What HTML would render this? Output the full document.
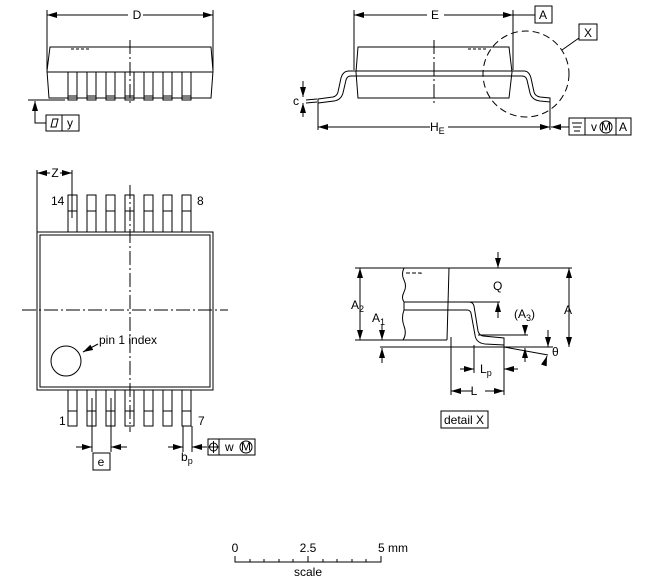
<!DOCTYPE html>
<html><head><meta charset="utf-8"><style>body{margin:0;background:#fff}svg{display:block}text{font-family:"Liberation Sans",sans-serif;font-size:12px;fill:#000}</style></head><body>
<svg width="663" height="581" viewBox="0 0 663 581" xmlns="http://www.w3.org/2000/svg">
<defs>
<marker id="a" viewBox="0 0 10 6" refX="10" refY="3" markerWidth="10" markerHeight="6" orient="auto-start-reverse" markerUnits="userSpaceOnUse"><path d="M0,0L10,3L0,6z" fill="#000"/></marker>
</defs>
<g fill="none" stroke="#000" stroke-width="1">
<line x1="47" y1="10" x2="47" y2="70"/><line x1="213" y1="10" x2="213" y2="70"/>
<line x1="47" y1="15" x2="128" y2="15" marker-start="url(#a)"/><line x1="143" y1="15" x2="213" y2="15" marker-end="url(#a)"/>
<path d="M50,47H211L213,71L211,98H49L47,71Z"/>
<line x1="47" y1="72" x2="213" y2="72"/>
<path d="M71,49h20" stroke-dasharray="3,2"/>
<g id="sp">
<rect x="68" y="72" width="9" height="28"/><line x1="68" y1="96" x2="77" y2="96"/>
</g>
<use href="#sp" x="19"/><use href="#sp" x="38"/><use href="#sp" x="57"/><use href="#sp" x="76"/><use href="#sp" x="95"/><use href="#sp" x="114"/>
<line x1="130" y1="40" x2="130" y2="106" stroke-dasharray="14,3,2,3"/>
<line x1="28" y1="100" x2="65" y2="100"/>
<polyline points="46,123 35,123 35,101" marker-end="url(#a)"/>
<rect x="46" y="115" width="33" height="16"/><line x1="62" y1="115" x2="62" y2="131"/>
<path d="M51,127L53,119H58L56,127Z"/>
<line x1="354" y1="10" x2="354" y2="70"/><line x1="513" y1="10" x2="513" y2="70"/>
<line x1="354" y1="15" x2="427" y2="15" marker-start="url(#a)"/><line x1="444" y1="15" x2="513" y2="15" marker-end="url(#a)"/>
<line x1="513" y1="15" x2="535" y2="15"/>
<rect x="535" y="6" width="17" height="17"/>
<path d="M358,47H509L512,72L509,98H358L356,72Z"/>
<path d="M468,49h20" stroke-dasharray="3,2"/>
<path d="M318,99L333,97Q337,96 338,92L341,78Q343,71 349,71H524Q529,71 531,78L534,92Q535,96 540,97L550,98V102L540,101Q532,100 530,93L527,80Q526,76 522,76H351Q347,76 346,80L343,93Q341,100 334,101L318,103Z"/>
<line x1="434" y1="40" x2="434" y2="106" stroke-dasharray="14,3,2,3"/>
<circle cx="526" cy="74" r="43" stroke-dasharray="7,4"/>
<line x1="562" y1="50" x2="579" y2="38"/>
<rect x="579" y="24" width="18" height="16"/>
<line x1="318" y1="100" x2="318" y2="130"/><line x1="550" y1="100" x2="550" y2="130"/>
<line x1="318" y1="127" x2="430" y2="127" marker-start="url(#a)"/><line x1="448" y1="127" x2="550" y2="127" marker-end="url(#a)"/>
<line x1="569" y1="127" x2="551" y2="127" marker-end="url(#a)"/>
<rect x="569" y="118" width="62" height="17"/><line x1="585" y1="118" x2="585" y2="135"/><line x1="616" y1="118" x2="616" y2="135"/>
<path d="M572,123h10M573,127h8M574,131h6"/>
<circle cx="606" cy="127" r="6"/>
<line x1="303" y1="81" x2="303" y2="97" marker-end="url(#a)"/><line x1="303" y1="117" x2="303" y2="103" marker-end="url(#a)"/>
<line x1="306" y1="100" x2="317" y2="99"/><line x1="306" y1="103" x2="317" y2="102"/>
<rect x="37" y="232" width="176" height="158"/><rect x="40" y="235" width="170" height="152"/>
<g id="tp"><rect x="68" y="195" width="9" height="37"/><line x1="68" y1="211" x2="77" y2="211"/>
<rect x="68" y="390" width="9" height="36"/><line x1="68" y1="411" x2="77" y2="411"/></g>
<use href="#tp" x="19"/><use href="#tp" x="38"/><use href="#tp" x="57"/><use href="#tp" x="76"/><use href="#tp" x="95"/><use href="#tp" x="114"/>
<line x1="22" y1="310" x2="228" y2="310" stroke-dasharray="14,3,2,3"/>
<line x1="130" y1="185" x2="130" y2="432" stroke-dasharray="14,3,2,3"/>
<line x1="37" y1="170" x2="37" y2="232"/><line x1="72" y1="170" x2="72" y2="218"/>
<line x1="37" y1="173" x2="50" y2="173" marker-start="url(#a)"/><line x1="60" y1="173" x2="72" y2="173" marker-end="url(#a)"/>
<circle cx="66" cy="361" r="15"/>
<line x1="98" y1="344" x2="83" y2="352" marker-end="url(#a)"/>
<line x1="92" y1="398" x2="92" y2="452"/><line x1="111" y1="398" x2="111" y2="452"/>
<line x1="76" y1="447" x2="92" y2="447" marker-end="url(#a)"/><line x1="127" y1="447" x2="111" y2="447" marker-end="url(#a)"/>
<rect x="93" y="453" width="17" height="17"/>
<line x1="183" y1="426" x2="183" y2="452"/><line x1="192" y1="426" x2="192" y2="452"/>
<line x1="168" y1="447" x2="183" y2="447" marker-end="url(#a)"/><line x1="207" y1="447" x2="192" y2="447" marker-end="url(#a)"/>
<rect x="208" y="439" width="47" height="16"/><line x1="219" y1="439" x2="219" y2="455"/>
<circle cx="213.5" cy="447" r="4"/><path d="M208,447h11M213.5,441v12"/>
<circle cx="246" cy="447" r="6"/>
<line x1="355" y1="268" x2="572" y2="268"/>
<line x1="355" y1="340" x2="405" y2="340"/>
<line x1="380" y1="347" x2="553" y2="347"/>
<line x1="360" y1="268" x2="360" y2="340" marker-start="url(#a)" marker-end="url(#a)"/>
<line x1="382" y1="325" x2="382" y2="340" marker-end="url(#a)"/><line x1="382" y1="363" x2="382" y2="348" marker-end="url(#a)"/>
<path d="M404,268q-3,6 0,12q3,6 0,12q-3,6 0,10v8q-3,8 0,16q3,8 -1,14"/>
<line x1="405" y1="340" x2="447" y2="340"/>
<path d="M449,268L447,340"/>
<path d="M406,273h15v2" stroke-dasharray="4,2"/>
<path d="M404,302H469Q473,302 474,306L478,331Q479,335 483,336L504,338V345L485,344Q476,343 475,335L471,313Q470,310 467,310H404Z"/>
<line x1="498" y1="252" x2="498" y2="268" marker-end="url(#a)"/>
<line x1="470" y1="302" x2="500" y2="302"/>
<line x1="498" y1="318" x2="498" y2="302" marker-end="url(#a)"/>
<line x1="478" y1="335" x2="528" y2="335"/>
<line x1="525" y1="325" x2="525" y2="335" marker-end="url(#a)"/>
<line x1="569" y1="268" x2="569" y2="347" marker-start="url(#a)" marker-end="url(#a)"/>
<line x1="548" y1="330" x2="548" y2="347" marker-end="url(#a)"/>
<line x1="504" y1="347" x2="548" y2="355"/>
<line x1="525" y1="362" x2="525" y2="348" marker-end="url(#a)"/>
<line x1="544" y1="365" x2="547" y2="356" marker-end="url(#a)"/>
<line x1="451" y1="337" x2="451" y2="395"/><line x1="474" y1="345" x2="474" y2="373"/><line x1="504" y1="345" x2="504" y2="395"/>
<line x1="460" y1="369" x2="474" y2="369" marker-end="url(#a)"/><line x1="518" y1="369" x2="504" y2="369" marker-end="url(#a)"/>
<line x1="451" y1="391" x2="472" y2="391" marker-start="url(#a)"/><line x1="485" y1="391" x2="504" y2="391" marker-end="url(#a)"/>
<rect x="441" y="411" width="47" height="17"/>
<path d="M235,556v6H381v-6M308,556v6M250,559v3M264,559v3M279,559v3M293,559v3M323,559v3M337,559v3M352,559v3M366,559v3"/>
</g>
<text x="137" y="19" text-anchor="middle">D</text>
<text x="70" y="127" text-anchor="middle">y</text>
<text x="435" y="19" text-anchor="middle">E</text>
<text x="543" y="19" text-anchor="middle">A</text>
<text x="588" y="37" text-anchor="middle">X</text>
<text x="430" y="131">H<tspan font-size="9" dy="3">E</tspan></text>
<text x="591" y="131" font-size="11">v</text><text x="606" y="130.5" text-anchor="middle" font-size="9">M</text>
<text x="623" y="131" text-anchor="middle">A</text>
<text x="296" y="105" text-anchor="middle">c</text>
<text x="55" y="177" text-anchor="middle">Z</text>
<text x="51" y="205">14</text><text x="197" y="205">8</text>
<text x="59" y="425">1</text><text x="198" y="425">7</text>
<text x="99" y="344">pin 1 index</text>
<text x="101" y="466" text-anchor="middle">e</text>
<text x="181" y="461">b<tspan font-size="9" dy="3">p</tspan></text>
<text x="225" y="451" font-size="11">w</text><text x="246" y="450.5" text-anchor="middle" font-size="9">M</text>
<text x="351" y="309">A<tspan font-size="9" dy="3">2</tspan></text>
<text x="372" y="322">A<tspan font-size="9" dy="3">1</tspan></text>
<text x="493" y="290">Q</text>
<text x="514" y="318">(A<tspan font-size="9" dy="3">3</tspan><tspan dy="-3">)</tspan></text>
<text x="564" y="314">A</text>
<text x="552" y="356">θ</text>
<text x="480" y="373">L<tspan font-size="9" dy="3">p</tspan></text>
<text x="474" y="395" text-anchor="middle">L</text>
<text x="464" y="424" text-anchor="middle">detail X</text>
<text x="235" y="552" text-anchor="middle">0</text>
<text x="308" y="552" text-anchor="middle">2.5</text>
<text x="378" y="552">5 mm</text>
<text x="308" y="576" text-anchor="middle">scale</text>
</svg>
</body></html>
